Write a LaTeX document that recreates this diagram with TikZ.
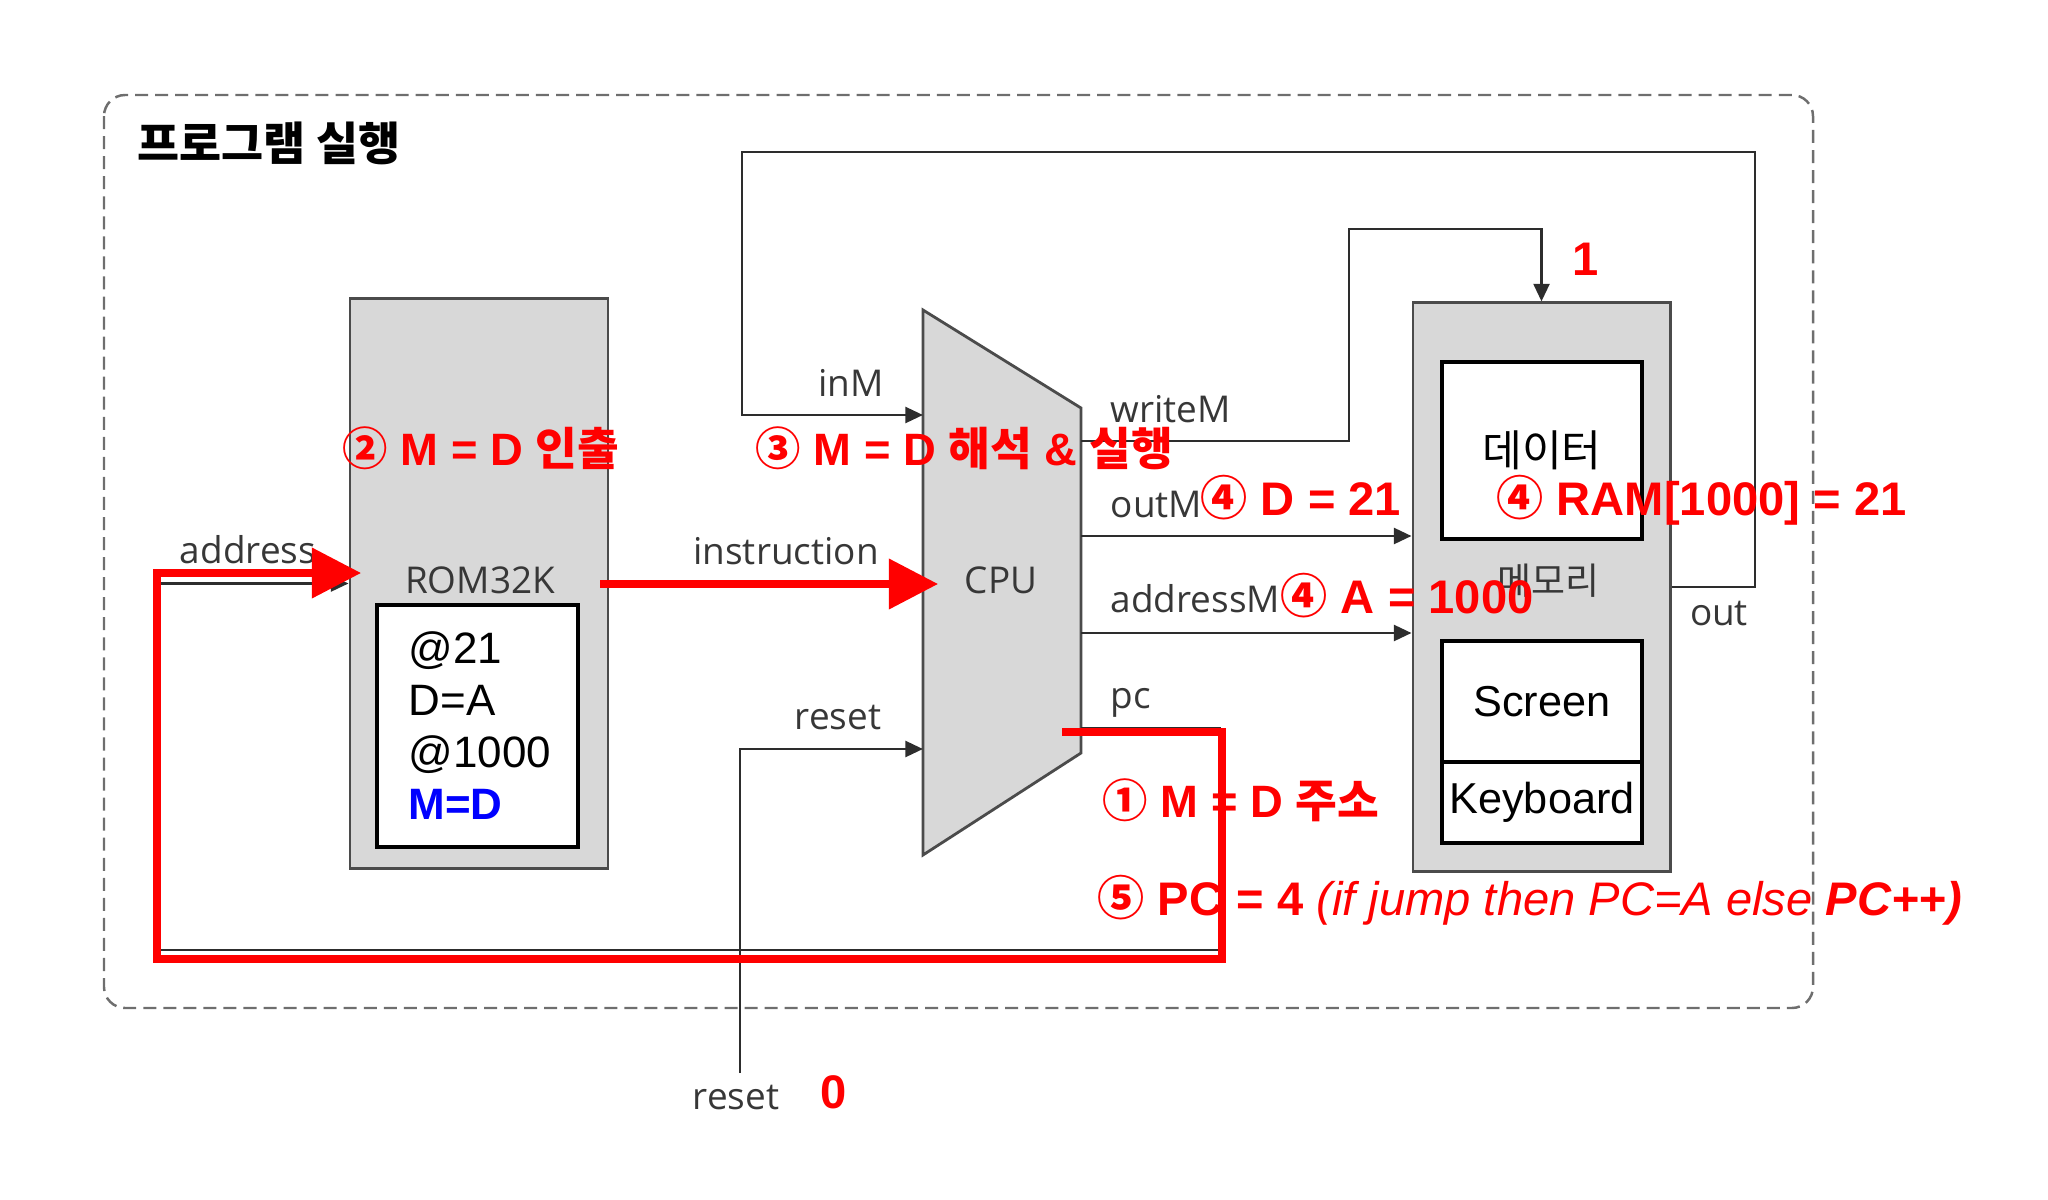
\documentclass[tikz,border=0pt]{standalone}
\usepackage{fontspec}
\setmainfont{Liberation Sans}
\newfontfamily\krfont{Noto Sans CJK KR}
\newfontfamily\sigfont{Open Sans}
\usetikzlibrary{arrows.meta}
\definecolor{chipgray}{RGB}{216,216,216}
\definecolor{chipedge}{RGB}{75,75,75}
\definecolor{wiregray}{RGB}{45,45,45}
\definecolor{siggray}{RGB}{55,55,55}
\definecolor{framegray}{RGB}{110,110,110}
\definecolor{notered}{RGB}{255,0,0}
\definecolor{codeblue}{RGB}{0,0,255}
\newcommand\ko[1]{{\krfont #1}}
\begin{document}
\begin{tikzpicture}[x=0.01cm,y=-0.01cm,
  chip/.style={draw=chipedge,fill=chipgray,line width=0.8pt,inner sep=0pt},
  slot/.style={draw=black,fill=white,line width=1.2pt,inner sep=0pt,minimum width=2cm},
  wire/.style={draw=wiregray,line width=0.8pt},
  pin/.style={wire,-{Triangle[length=5pt,width=4.5pt]}},
  flow/.style={draw=notered,line width=2pt},
  bigtip/.style={-{Triangle[length=14pt,width=14pt]}},
  sig/.style={text=siggray,font=\sigfont\fontsize{10.5pt}{12pt}\selectfont,inner sep=0pt},
  codeline/.style={anchor=base west,inner sep=0pt,font=\fontsize{12.5pt}{15pt}\selectfont},
  slottext/.style={font=\fontsize{12.3pt}{15pt}\selectfont},
  note/.style={anchor=base west,inner sep=0pt,text=notered,font=\fontsize{12.9pt}{15pt}\selectfont\bfseries},
  bignote/.style={note,font=\fontsize{13.4pt}{16pt}\selectfont\bfseries},
]
\useasboundingbox (0,0) rectangle (2048,1200);
% frame and title
\draw[framegray,line width=0.7pt,dash pattern=on 3.7pt off 2pt,rounded corners=6pt] (104,95) rectangle (1813,1008);
\node[anchor=west,inner sep=0pt,font=\krfont\fontsize{13pt}{15pt}\selectfont\bfseries] (title) at (137,143) {프로그램 실행};
% chips
\node[chip,minimum width=2.58cm,minimum height=5.69cm] (rom) at (479,583.5) {};
\node[sig] (romname) at (480,580) {ROM32K};
\node[slot,minimum width=2.01cm,minimum height=2.42cm] (code) at (477.5,726) {};
\foreach \ln/\txt in {0/@21,1/D=A,2/@1000} \node[codeline] (code\ln) at (408,663+52*\ln) {\txt};
\node[codeline,text=codeblue,font=\fontsize{12.5pt}{15pt}\selectfont\bfseries] (code3) at (408,819) {M=D};
\draw[chip] (923,310) -- (1081,408) -- (1081,753) -- (923,855) -- cycle;
\node[sig] (cpu) at (1001,580) {CPU};
\node[chip,minimum width=2.57cm,minimum height=5.68cm] (mem) at (1541.5,587) {};
\node[slot,minimum height=1.77cm,slottext] (data) at (1542,450.5) {\ko{데이터}};
\node[sig] (memname) at (1548,581) {\ko{메모리}};
\node[slot,minimum height=1.21cm,slottext] (screen) at (1542,701.5) {Screen};
\node[slot,minimum height=0.81cm,slottext] (keyb) at (1542,802.5) {Keyboard};
% pins
\coordinate (cpu-inM) at (923,415);
\coordinate (cpu-ins) at (923,583.5);
\coordinate (cpu-reset) at (923,749);
\coordinate (cpu-wM) at (1081,441);
\coordinate (cpu-oM) at (1081,536);
\coordinate (cpu-aM) at (1081,633);
\coordinate (cpu-pc) at (1081,728);
\coordinate (loop-ne) at (1755,152);
\coordinate (loop-nw) at (742,152);
\coordinate (wm-bend) at (1349,229);
\coordinate (pc-se) at (1220,950);
\coordinate (pc-sw) at (160,950);
\coordinate (reset-in) at (740,1073);
% wires
\draw[pin] (mem.east) -| (loop-ne) -- (loop-nw) |- (cpu-inM);
\draw[pin] (cpu-wM) -| (wm-bend) -| (mem.north);
\draw[pin] (cpu-oM) -- (cpu-oM -| mem.west);
\draw[pin] (cpu-aM) -- (cpu-aM -| mem.west);
\draw[pin] (cpu-pc) -| (pc-se) -- (pc-sw) |- (rom.west);
\draw[pin] (rom.east) -- (cpu-ins);
\draw[pin] (reset-in) |- (cpu-reset);
% wire labels
\node[sig] (lbl-address) at (248,550) {address};
\node[sig] (lbl-ins) at (786,551) {instruction};
\node[sig] (lbl-inM) at (851,383) {inM};
\node[sig] (lbl-reset) at (838,718) {reset};
\node[sig] (lbl-resetin) at (736,1097) {reset};
\node[sig,anchor=base west] (lbl-wM) at (1110,422) {writeM};
\node[sig,anchor=base west] (lbl-oM) at (1110,517) {outM};
\node[sig,anchor=base west] (lbl-aM) at (1110,612) {addressM};
\node[sig,anchor=base west] (lbl-pc) at (1110,708) {pc};
\node[sig] (lbl-out) at (1719,614) {out};
% red steps
\coordinate (fetch-start) at (1062,732);
\coordinate (fetch-se) at (1222,959);
\coordinate (fetch-nw) at (157,573);
\coordinate (fetch-tip) at (361,573);
\coordinate (ins-start) at (600,584);
\coordinate (ins-tip) at (938,584);
\draw[flow,bigtip] (fetch-start) -| (fetch-se) -| (fetch-nw) -- (fetch-tip);
\draw[flow,bigtip] (ins-start) -- (ins-tip);
\node[note] (step2) at (342,465) {\ko{②} M = D \ko{인출}};
\node[note] (step3) at (755,465) {\ko{③} M = D \ko{해석} \& \ko{실행}};
\node[bignote] (step4d) at (1200,515) {\ko{④} D = 21};
\node[bignote] (step4ram) at (1496,515) {\ko{④} RAM[1000] = 21};
\node[bignote] (step4a) at (1280,613) {\ko{④} A = 1000};
\node[note] (step1) at (1102,817) {\ko{①} M = D \ko{주소}};
\node[bignote] (step5) at (1097,915) {\ko{⑤} PC = 4 {\mdseries\itshape (if jump then PC=A else \bfseries PC++)}};
\node[bignote] (wm-val) at (1572,275) {1};
\node[bignote] (reset-val) at (820,1108) {0};
\end{tikzpicture}
\end{document}
